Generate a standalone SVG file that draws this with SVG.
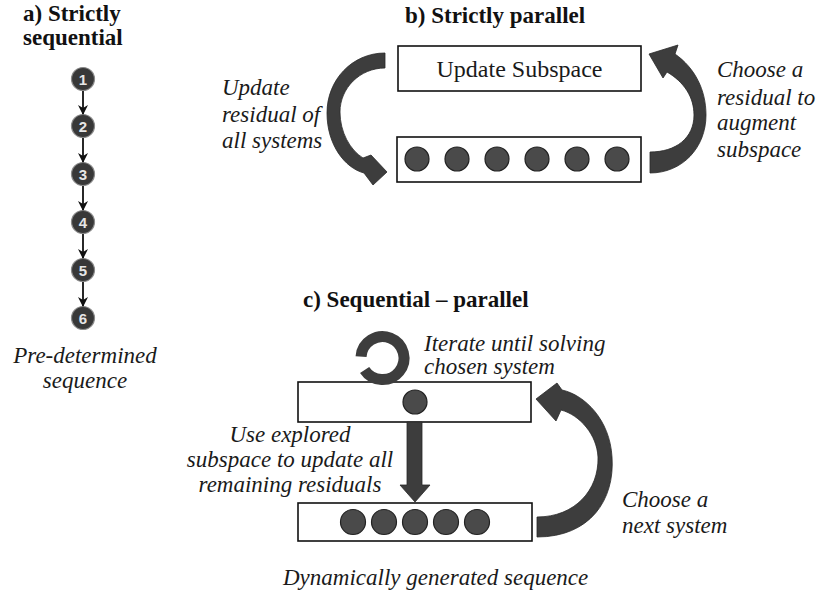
<svg xmlns="http://www.w3.org/2000/svg" width="821" height="599" viewBox="0 0 821 599">
<defs>
<style>
.title{font-weight:bold;font-size:23px;fill:#111}
.it{font-style:italic;font-size:23px;fill:#1a1a1a}
.reg{font-size:24px;fill:#1a1a1a}
.box{fill:#fff;stroke:#111;stroke-width:1.6}
.dot{fill:#4a4a4a;stroke:#222;stroke-width:1.2}
.num{fill:#383838;stroke:#8a8a8a;stroke-width:1.2}
.digit{font-weight:bold;font-size:15px;fill:#e6e6e6;text-anchor:middle}
.band{fill:#3d3d3d;stroke:#2a2a2a;stroke-width:0.8}
.seq{stroke:#111;stroke-width:1.8;fill:none}
</style>
<marker id="ah" markerWidth="10" markerHeight="10" refX="9" refY="5" orient="auto" markerUnits="userSpaceOnUse">
<path d="M0,0 L10,5 L0,10 L3,5 z" fill="#111"/>
</marker>
</defs>
<rect width="821" height="599" fill="#fff"/>
<g font-family="Liberation Serif, Times New Roman, serif">
<!-- a) Strictly sequential -->
<g id="a-title">
<text class="title" x="23" y="21">a) Strictly</text>
<text class="title" x="23" y="45">sequential</text>
</g>
<g id="a-nodes" font-family="Liberation Sans, Arial, sans-serif">
<g id="a-n1"><circle class="num" cx="83" cy="79" r="11.5"/><text class="digit" x="83" y="84.5">1</text></g>
<g id="a-n2"><circle class="num" cx="83" cy="126" r="11.5"/><text class="digit" x="83" y="131.5">2</text></g>
<g id="a-n3"><circle class="num" cx="83" cy="174" r="11.5"/><text class="digit" x="83" y="179.5">3</text></g>
<g id="a-n4"><circle class="num" cx="83" cy="222" r="11.5"/><text class="digit" x="83" y="227.5">4</text></g>
<g id="a-n5"><circle class="num" cx="83" cy="270" r="11.5"/><text class="digit" x="83" y="275.5">5</text></g>
<g id="a-n6"><circle class="num" cx="83" cy="318" r="11.5"/><text class="digit" x="83" y="323.5">6</text></g>
</g>
<g id="a-caption">
<text class="it" x="85" y="363" text-anchor="middle">Pre-determined</text>
<text class="it" x="85" y="388" text-anchor="middle">sequence</text>
</g>

<!-- b) Strictly parallel -->
<g id="b-title"><text class="title" x="405" y="23">b) Strictly parallel</text></g>
<g id="b-update">
<rect class="box" x="398" y="46" width="243" height="45"/>
<text class="reg" x="519.5" y="77" text-anchor="middle">Update Subspace</text>
</g>
<g id="b-systems">
<rect class="box" x="397" y="137" width="244" height="45"/>
<circle class="dot" cx="417" cy="159" r="12"/>
<circle class="dot" cx="457" cy="159" r="12"/>
<circle class="dot" cx="497" cy="159" r="12"/>
<circle class="dot" cx="537" cy="159" r="12"/>
<circle class="dot" cx="577" cy="159" r="12"/>
<circle class="dot" cx="617" cy="159" r="12"/>
</g>
<g id="b-left-label">
<text class="it" x="222" y="95">Update</text>
<text class="it" x="222" y="122">residual of</text>
<text class="it" x="222" y="148">all systems</text>
</g>
<g id="b-right-label">
<text class="it" x="717" y="77">Choose a</text>
<text class="it" x="717" y="105">residual to</text>
<text class="it" x="717" y="130">augment</text>
<text class="it" x="717" y="157">subspace</text>
</g>

<!-- c) Sequential - parallel -->
<g id="c-title"><text class="title" x="303" y="307">c) Sequential – parallel</text></g>
<g id="c-chosen">
<rect class="box" x="298" y="382" width="233" height="40"/>
<circle class="dot" cx="415" cy="402" r="12"/>
</g>
<g id="c-remaining">
<rect class="box" x="298" y="503" width="234" height="38"/>
<circle class="dot" cx="353" cy="522" r="12.5"/>
<circle class="dot" cx="384" cy="522" r="12.5"/>
<circle class="dot" cx="415" cy="522" r="12.5"/>
<circle class="dot" cx="446" cy="522" r="12.5"/>
<circle class="dot" cx="477" cy="522" r="12.5"/>
</g>
<g id="c-iterate-label">
<text class="it" x="424" y="351">Iterate until solving</text>
<text class="it" x="424" y="374">chosen system</text>
</g>
<g id="c-use-label">
<text class="it" x="290" y="442" text-anchor="middle">Use explored</text>
<text class="it" x="290" y="467" text-anchor="middle">subspace to update all</text>
<text class="it" x="290" y="492" text-anchor="middle">remaining residuals</text>
</g>
<g id="c-choose-label">
<text class="it" x="622" y="507">Choose a</text>
<text class="it" x="622" y="533">next system</text>
</g>
<g id="c-caption"><text class="it" x="283" y="585">Dynamically generated sequence</text></g>
</g>

<!-- connectors -->
<g id="connectors">
<line class="seq" x1="83" y1="91" x2="83" y2="114" marker-end="url(#ah)"/>
<line class="seq" x1="83" y1="138" x2="83" y2="162" marker-end="url(#ah)"/>
<line class="seq" x1="83" y1="186" x2="83" y2="210" marker-end="url(#ah)"/>
<line class="seq" x1="83" y1="234" x2="83" y2="258" marker-end="url(#ah)"/>
<line class="seq" x1="83" y1="282" x2="83" y2="306" marker-end="url(#ah)"/>
<!-- b left curved arrow -->
<path class="band" d="M385,53 C352,53 327,80 327,113 C327,145 345,168 364,173 L373,185 L387,172 L371,155 L363,158 C350,150 340,132 340,112 C340,88 360,68 385,68 Z"/>
<!-- b right curved arrow -->
<path class="band" d="M675,54 C695,68 706,90 706,115 C706,148 682,173 650,173 L650,152 C676,152 694,138 694,115 C694,97 684,82 667,72 L663,78 L649,54 L678,45 Z"/>
<!-- c loop -->
<path d="M361.05,356.54 A21.5,21.5 0 1 1 364.6,370" fill="none" stroke="#3d3d3d" stroke-width="11"/>
<!-- c down arrow -->
<path class="band" d="M407,422 L422,422 L422,485 L430,485 L415,502 L400,485 L407,485 Z"/>
<!-- c right curved arrow -->
<path class="band" d="M537,537 C590,537 615,500 612,457 C610,420 585,395 562,390 L557,383 L536,399 L556,421 L561,410 C580,415 597,435 598,457 C599,490 575,517 537,517 Z"/>
</g>
</svg>
